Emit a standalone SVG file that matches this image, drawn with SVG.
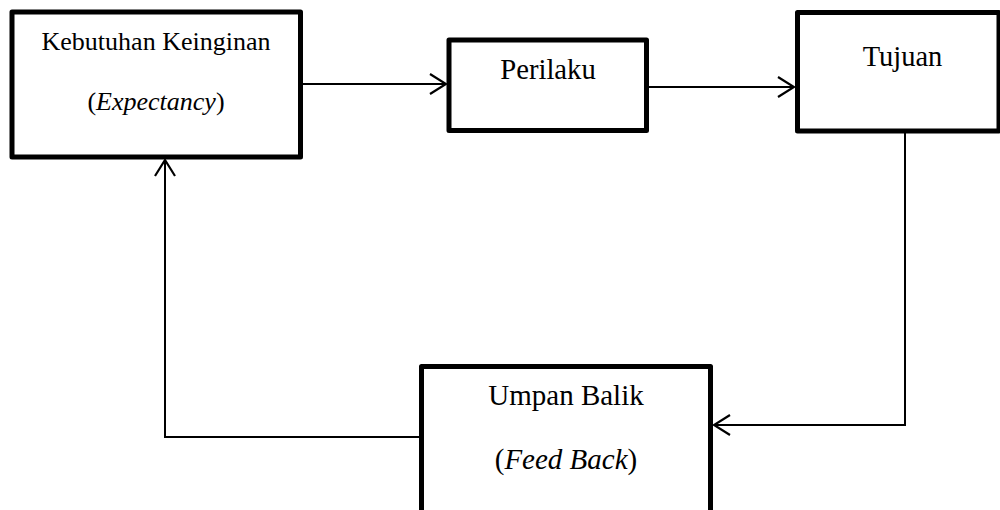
<svg xmlns="http://www.w3.org/2000/svg" width="1000" height="510" viewBox="0 0 1000 510">
<style>
.box{fill:#fff;stroke:#000;stroke-width:5;stroke-linejoin:round}
.t{font-family:'Liberation Serif','Times New Roman','DejaVu Serif',serif;fill:#000;text-anchor:middle}
.c{fill:none;stroke:#000;stroke-width:2}
</style>
<defs>
<marker id="arr" markerUnits="userSpaceOnUse" viewBox="-20 -13 22 26" markerWidth="22" markerHeight="26" refX="0" refY="0" orient="auto">
<path d="M-16,-10 L0,0 L-16,10" fill="none" stroke="#000" stroke-width="2.2"/>
</marker>
</defs>
<rect width="1000" height="510" fill="#fff"/>
<g id="connectors">
<line class="c" x1="302" y1="84" x2="446" y2="84" marker-end="url(#arr)"/>
<line class="c" x1="648" y1="87" x2="794" y2="87" marker-end="url(#arr)"/>
<polyline class="c" points="905,133 905,425 714,425" marker-end="url(#arr)"/>
<polyline class="c" points="419,437 165,437 165,160" marker-end="url(#arr)"/>
</g>
<g id="kebutuhan">
<rect class="box" x="12" y="12" width="288.5" height="145"/>
<text class="t" font-family="Liberation Serif, DejaVu Serif, serif" x="156" y="50" font-size="26">Kebutuhan Keinginan</text>
<text class="t" font-family="Liberation Serif, DejaVu Serif, serif" x="156" y="110" font-size="26">(<tspan font-style="italic">Expectancy</tspan>)</text>
</g>
<g id="perilaku">
<rect class="box" x="449" y="40" width="197.5" height="90.5"/>
<text class="t" font-family="Liberation Serif, DejaVu Serif, serif" x="548" y="79" font-size="28.7">Perilaku</text>
</g>
<g id="tujuan">
<rect class="box" x="797.5" y="12.5" width="201.5" height="118.5"/>
<text class="t" font-family="Liberation Serif, DejaVu Serif, serif" x="902.5" y="66" font-size="28.5">Tujuan</text>
</g>
<g id="umpan">
<rect class="box" x="421.5" y="366.5" width="289" height="150"/>
<text class="t" font-family="Liberation Serif, DejaVu Serif, serif" x="566" y="405" font-size="29">Umpan Balik</text>
<text class="t" font-family="Liberation Serif, DejaVu Serif, serif" x="566" y="469" font-size="29">(<tspan font-style="italic">Feed Back</tspan>)</text>
</g>
</svg>
